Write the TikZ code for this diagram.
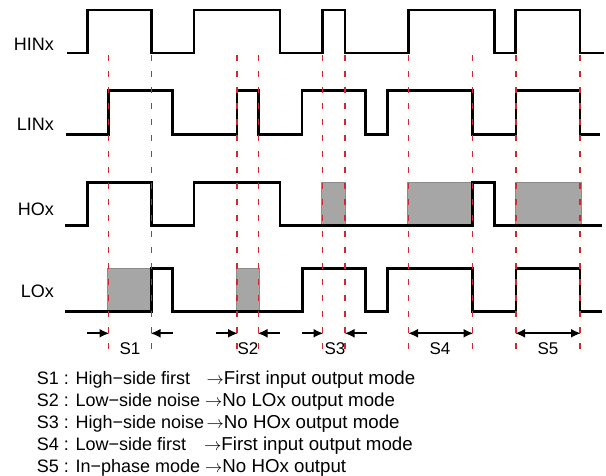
\documentclass[tikz,border=0pt]{standalone}
\usepackage{fontspec}
\setmainfont{Liberation Sans}
\usetikzlibrary{arrows.meta}
\definecolor{dashred}{RGB}{214,39,40}
\definecolor{boxgray}{RGB}{166,166,166}
\definecolor{boxedge}{RGB}{140,140,140}
\tikzset{
  sig/.style={line width=2.5pt, line join=miter, black},
  guide/.style={dashred, line width=1.4pt, dash pattern=on 6pt off 10pt},
  shade/.style={fill=boxgray, draw=boxedge, line width=0.9pt},
  sigl/.style={anchor=base east, inner sep=0pt, font=\fontsize{18}{18}\selectfont},
  slab/.style={anchor=base, inner sep=0pt, font=\fontsize{17}{17}\selectfont},
  note/.style={anchor=base west, inner sep=0pt, font=\fontsize{18}{18}\selectfont},
  noter/.style={anchor=base west, inner sep=0pt, font=\fontsize{18.7}{18.7}\selectfont},
  arr/.style={line width=2pt, -{Latex[length=10pt,width=9pt]}},
  darr/.style={line width=2pt, {Latex[length=10pt,width=9pt]}-{Latex[length=10pt,width=9pt]}}
}
\begin{document}
\begin{tikzpicture}[x=1pt,y=-1pt]
\useasboundingbox (0,0) rectangle (606,476);
% gray regions
\filldraw[shade] (107.7,268.3) rectangle (151.7,311.7);
\filldraw[shade] (236.7,268.3) rectangle (259,311.7);
\filldraw[shade] (321.7,182.3) rectangle (345,225.7);
\filldraw[shade] (407.3,182.3) rectangle (472.7,225.7);
\filldraw[shade] (515,182.3) rectangle (581,225.7);
% HINx
\draw[sig] (67,53) -- (87.3,53) -- (87.3,10) -- (151.7,10) -- (151.7,53) -- (194,53) -- (194,10) -- (280,10) -- (280,53) -- (322.7,53) -- (322.7,10) -- (345,10) -- (345,53) -- (408.7,53) -- (408.7,10) -- (494.3,10) -- (494.3,53) -- (515.7,53) -- (515.7,10) -- (580,10) -- (580,53) -- (604,53);
% LINx
\draw[sig] (66,134.3) -- (108.3,134.3) -- (108.3,90.7) -- (172.7,90.7) -- (172.7,134.3) -- (237,134.3) -- (237,90.7) -- (258.3,90.7) -- (258.3,134.3) -- (302,134.3) -- (302,90.7) -- (365.7,90.7) -- (365.7,134.3) -- (387.3,134.3) -- (387.3,90.7) -- (472.7,90.7) -- (472.7,134.3) -- (516,134.3) -- (516,90.7) -- (580,90.7) -- (580,134.3) -- (599.5,134.3);
% HOx
\draw[sig] (65,225.7) -- (87.7,225.7) -- (87.7,182.3) -- (151.7,182.3) -- (151.7,225.7) -- (194,225.7) -- (194,182.3) -- (280,182.3) -- (280,225.7) -- (472.7,225.7) -- (472.7,182.3) -- (494.3,182.3) -- (494.3,225.7) -- (602,225.7);
% LOx
\draw[sig] (65,311.7) -- (151.7,311.7) -- (151.7,268.3) -- (172.7,268.3) -- (172.7,311.7) -- (302.3,311.7) -- (302.3,268.3) -- (365.7,268.3) -- (365.7,311.7) -- (387.3,311.7) -- (387.3,268.3) -- (472.7,268.3) -- (472.7,311.7) -- (516,311.7) -- (516,268.3) -- (580,268.3) -- (580,311.7) -- (602,311.7);
% guides
\foreach \x in {108.3,151.7,237,258.3,322.7,345,408.7,472.7,516,580}
  \draw[guide] (\x,55) -- (\x,353);
% signal labels
\node[sigl] (hin) at (54,50.7) {HINx};
\node[sigl] (lin) at (54,130.5) {LINx};
\node[sigl] (ho) at (54,215.7) {HOx};
\node[sigl] (lo) at (54,297.7) {LOx};
% arrow markers
\coordinate (a1) at (87,333.3);   \coordinate (b1) at (109.5,333.3);
\coordinate (c1) at (172.7,333.3); \coordinate (d1) at (150.5,333.3);
\coordinate (a2) at (216,333.3);  \coordinate (b2) at (238,333.3);
\coordinate (c2) at (280,333.3);  \coordinate (d2) at (257.5,333.3);
\coordinate (a3) at (301.7,333.3); \coordinate (b3) at (323.5,333.3);
\coordinate (c3) at (367,333.3);  \coordinate (d3) at (344.5,333.3);
\coordinate (a4) at (408,333.3); \coordinate (b4) at (473.5,333.3);
\coordinate (a5) at (515,333.3);  \coordinate (b5) at (581,333.3);
\draw[arr] (a1) -- (b1); \draw[arr] (c1) -- (d1);
\draw[arr] (a2) -- (b2); \draw[arr] (c2) -- (d2);
\draw[arr] (a3) -- (b3); \draw[arr] (c3) -- (d3);
\draw[darr] (a4) -- (b4);
\draw[darr] (a5) -- (b5);
\node[slab] (s1) at (130,354) {S1};
\node[slab] (s2) at (248,354) {S2};
\node[slab] (s3) at (335,354) {S3};
\node[slab] (s4) at (440,354) {S4};
\node[slab] (s5) at (548,354) {S5};
% notes
\node[note] (n1l) at (36.7,384) {S1 : High−side first};
\node[noter] (n1r) at (206.5,384) {$\rightarrow$First input output mode};
\node[note] (n2l) at (36.7,406) {S2 : Low−side noise};
\node[noter] (n2r) at (205,406) {$\rightarrow$No LOx output mode};
\node[note] (n3l) at (36.7,428) {S3 : High−side noise};
\node[noter] (n3r) at (206.5,428) {$\rightarrow$No HOx output mode};
\node[note] (n4l) at (36.7,450) {S4 : Low−side first};
\node[noter] (n4r) at (204,450) {$\rightarrow$First input output mode};
\node[note] (n5l) at (36.7,472) {S5 : In−phase mode};
\node[noter] (n5r) at (205,472) {$\rightarrow$No HOx output};
\end{tikzpicture}
\end{document}
